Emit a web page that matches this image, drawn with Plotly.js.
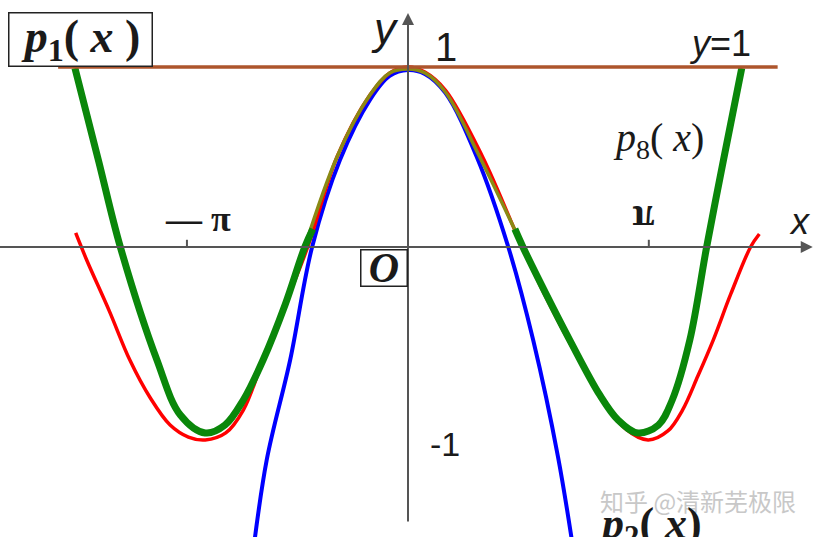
<!DOCTYPE html>
<html>
<head>
<meta charset="utf-8">
<script src="https://cdn.plot.ly/plotly-3.0.1.min.js"></script>
<style>html,body{margin:0;padding:0;background:#fff;}#chart{width:822px;height:537px;}</style>
</head>
<body>
<div id="chart"></div>
<script>
// ---- data (x in radians, y in units) ----
const cosX = [-4.54,-4.39,-4.08,-3.80,-3.52,-3.25,-3.00,-2.77,-2.49,-2.25,-1.98,-1.68,-1.37,-0.97,-0.52,-0.25,0,0.23,0.51,1.02,1.56,1.87,2.19,2.66,2.96,3.28,3.55,3.75,3.96,4.17,4.41,4.68,4.80];
const cosY = [0.078,-0.072,-0.356,-0.628,-0.839,-0.989,-1.056,-1.072,-1.033,-0.906,-0.628,-0.322,0,0.5,0.844,0.967,1.0,0.972,0.872,0.5,0,-0.267,-0.517,-0.85,-1.006,-1.072,-1.022,-0.906,-0.717,-0.517,-0.261,0.0,0.072];

const p8LeftX  = [-4.55,-4.23,-3.93,-3.43,-3.11,-2.77,-2.50,-2.25,-1.98,-1.68,-1.41,-1.30];
const p8LeftY  = [0.994,0.483,0,-0.628,-0.933,-1.033,-0.989,-0.85,-0.628,-0.322,0,0.10];
const p8MidX   = [-1.41,-0.97,-0.52,-0.25,0,0.23,0.51,0.98,1.57];
const p8MidY   = [0,0.5,0.844,0.967,0.989,0.967,0.861,0.5,0];
const p8RightX = [1.46,1.57,1.88,2.21,2.62,2.87,3.14,3.42,3.61,3.85,4.08,4.31,4.56];
const p8RightY = [0.10,0,-0.256,-0.517,-0.822,-0.961,-1.033,-0.989,-0.85,-0.517,0,0.483,0.994];

const p2X = [-2.13,-1.93,-1.61,-1.31,-0.93,-0.52,-0.25,0,0.23,0.51,0.94,1.37,1.71,2.05,2.28];
const p2Y = [-1.739,-1.183,-0.628,0,0.483,0.817,0.95,0.983,0.961,0.856,0.5,0,-0.517,-1.167,-1.739];

const p1X = [-4.78, 5.05];
const p1Y = [1, 1];

const tickVals = [-3.02, 3.29];

// ---- traces ----
const traces = [
  {x:p2X, y:p2Y, mode:'lines', line:{color:'#0000ff', width:4, shape:'spline'}, hoverinfo:'skip'},
  {x:cosX, y:cosY, mode:'lines', line:{color:'#ff0000', width:3.5, shape:'spline'}, hoverinfo:'skip'},
  {x:p8MidX, y:p8MidY, mode:'lines', line:{color:'#8a8a14', width:3.5, shape:'spline'}, hoverinfo:'skip'},
  {x:p8LeftX, y:p8LeftY, mode:'lines', line:{color:'#0a870a', width:7, shape:'spline'}, hoverinfo:'skip'},
  {x:p8RightX, y:p8RightY, mode:'lines', line:{color:'#0a870a', width:7, shape:'spline'}, hoverinfo:'skip'},
  {x:p1X, y:p1Y, mode:'lines', line:{color:'#ad552c', width:3.5}, hoverinfo:'skip'}
];

const serif = 'Liberation Serif, Times New Roman, serif';
const sans = 'Liberation Sans, Arial, sans-serif';

function lab(x, y, text, size, fam, extra) {
  return Object.assign({x:x, y:y, xref:'x', yref:'y', text:text, showarrow:false,
    font:{family:fam, size:size, color:'#1a1a1a'}, xanchor:'center', yanchor:'middle'}, extra||{});
}

const annotations = [
  // axes with arrows
  {x:5.53, y:0, ax:-5.6, ay:0, xref:'x', yref:'y', axref:'x', ayref:'y', text:'', showarrow:true,
   arrowhead:2, arrowsize:1.2, arrowwidth:2, arrowcolor:'#555'},
  {x:0, y:1.30, ax:0, ay:-1.533, xref:'x', yref:'y', axref:'x', ayref:'y', text:'', showarrow:true,
   arrowhead:2, arrowsize:1.2, arrowwidth:2, arrowcolor:'#555'},
  lab(-4.48, 1.15, '<b><i>p</i><sub>1</sub>( <i>x</i> )</b>', 46, serif,
      {bordercolor:'#222', borderwidth:1.5, borderpad:0, width:142, height:52, bgcolor:'#fff'}),
  lab(-0.31, 1.215, '<i>y</i>', 44, sans),
  lab(0.52, 1.111, '1', 40, sans),
  lab(4.26, 1.133, '<i>y</i>=1', 36, sans),
  lab(3.42, 0.594, '<i>p</i><sub>8</sub>( <i>x</i>)', 40, serif),
  lab(5.36, 0.139, '<i>x</i>', 36, sans),
  lab(-2.87, 0.155, '<b>— π</b>', 36, serif),
  lab(3.22, 0.156, '<b>π</b>', 40, serif, {textangle:180}),
  lab(-0.33, -0.117, '<b><i>O</i></b>', 42, serif,
      {bordercolor:'#222', borderwidth:1.5, borderpad:0, width:45, height:35, bgcolor:'#fff'}),
  lab(0.51, -1.094, '-1', 34, sans),
  lab(3.96, -1.406, '知乎 @清新芜极限', 24, 'Noto Sans CJK SC, sans-serif', {font:{family:'Noto Sans CJK SC, sans-serif', size:24, color:'#c8c8c8'}}),
  lab(3.31, -1.55, '<b><i>p</i><sub>2</sub>( <i>x</i>)</b>', 44, serif)
];

const shapes = tickVals.map(v => ({type:'line', xref:'x', yref:'y', x0:v, x1:v, y0:0, y1:0.04,
  line:{color:'#555', width:2}}));

const layout = {
  width:822, height:537,
  margin:{l:0, r:0, t:0, b:0},
  paper_bgcolor:'#ffffff', plot_bgcolor:'#ffffff',
  showlegend:false,
  xaxis:{range:[-5.574, 5.656], visible:false, fixedrange:true},
  yaxis:{range:[-1.611, 1.372], visible:false, fixedrange:true},
  annotations:annotations,
  shapes:shapes
};

Plotly.newPlot('chart', traces, layout, {staticPlot:true, displayModeBar:false});
</script>
</body>
</html>
